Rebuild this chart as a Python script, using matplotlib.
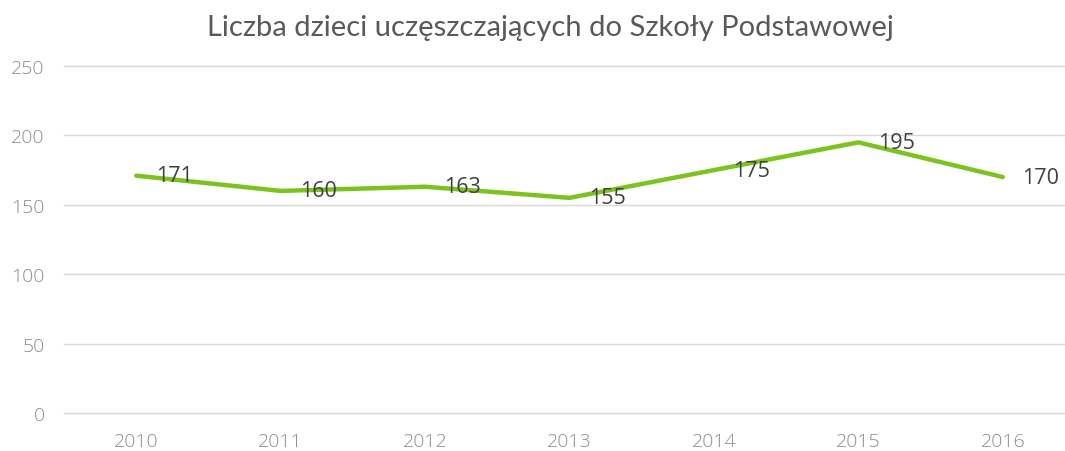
import matplotlib
matplotlib.use('Agg')
import matplotlib.pyplot as plt

lata = ['2010', '2011', '2012', '2013', '2014', '2015', '2016']
liczba_dzieci = [171, 160, 163, 155, 175, 195, 170]
y_ticks = [0, 50, 100, 150, 200, 250]

fig = plt.figure(figsize=(10.65, 4.52), dpi=100)
ax = fig.add_axes([64 / 1065, 38 / 452, 1011 / 1065, 347 / 452])

x = list(range(len(lata)))
ax.plot(x, liczba_dzieci, color='#7dc21e', linewidth=3.2, solid_capstyle='round', zorder=3)

for xi, v in zip(x, liczba_dzieci):
    ax.annotate(str(v), (xi, v), xytext=(14, 0), textcoords='offset points',
                ha='left', va='center', fontsize=15.5, color='#404040',
                family='Open Sans', zorder=4)

ax.set_xlim(-0.5, len(lata) - 0.5)
ax.set_ylim(0, 250)
ax.set_yticks(y_ticks)
ax.set_xticks(x)
ax.set_xticklabels(lata)
ax.grid(axis='y', color='#d9d9d9', linewidth=1)
for gl in ax.get_ygridlines():
    gl.set_clip_on(False)
ax.set_axisbelow(True)
for s in ax.spines.values():
    s.set_visible(False)
ax.tick_params(axis='both', length=0, labelsize=14, labelcolor='#8c8c8c')
ax.tick_params(axis='y', pad=14)
ax.tick_params(axis='x', pad=14)
for lab in ax.get_xticklabels() + ax.get_yticklabels():
    lab.set_family('Open Sans')
    lab.set_fontweight('light')

fig.text(550 / 1065, 1 - 28 / 452, 'Liczba dzieci uczęszczających do Szkoły Podstawowej',
         ha='center', va='center', fontsize=21, color='#595959', family='Lato')

fig.savefig('out.png', dpi=100)
